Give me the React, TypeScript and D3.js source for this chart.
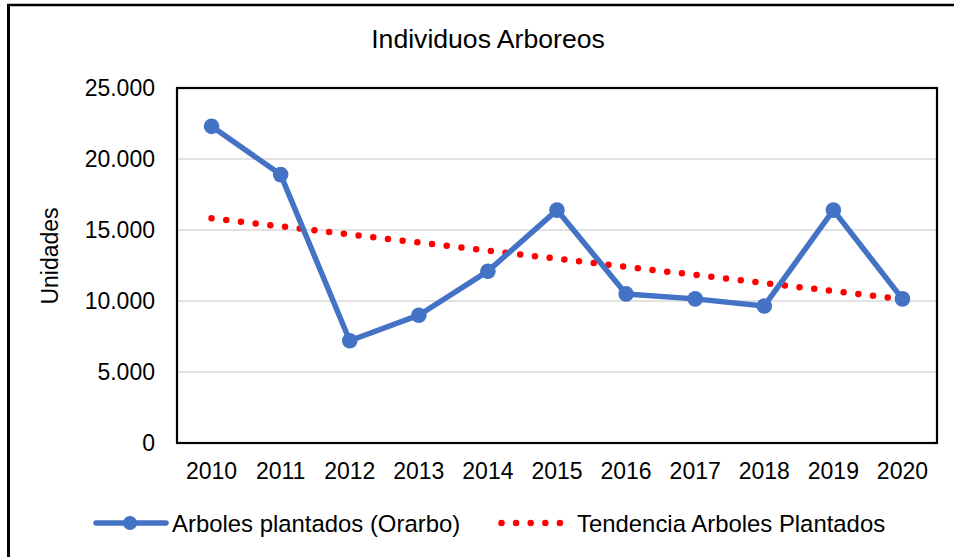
import { useEffect, useRef } from 'react';
import * as d3 from 'd3';

// datos
const years = ['2010', '2011', '2012', '2013', '2014', '2015', '2016', '2017', '2018', '2019', '2020'];
const plantados = [22300, 18900, 7200, 9000, 12100, 16400, 10500, 10150, 9650, 16400, 10150];
const yTicks = [0, 5000, 10000, 15000, 20000, 25000];

const seriesName = 'Arboles plantados (Orarbo)';
const trendName = 'Tendencia Arboles Plantados';
const title = 'Individuos Arboreos';

const BLUE = '#4472C4';
const RED = '#FF0000';

const App = () => {
  const svgRef = useRef<SVGSVGElement>(null);

  useEffect(() => {
    const width = 954;
    const height = 557;
    const m = { left: 177, right: 937, top: 88, bottom: 443 };
    const font = '"Liberation Sans", Arial, sans-serif';

    const svg = d3.select(svgRef.current);
    svg.selectAll('*').remove();
    svg.attr('width', width).attr('height', height);

    svg.append('rect').attr('width', width).attr('height', height).attr('fill', '#fff');

    // marco exterior (recortado: solo arriba e izquierda)
    svg.append('line').attr('x1', 7).attr('x2', width).attr('y1', 5).attr('y2', 5)
      .attr('stroke', '#000').attr('stroke-width', 2.5);
    svg.append('line').attr('x1', 8.5).attr('x2', 8.5).attr('y1', 4).attr('y2', height)
      .attr('stroke', '#000').attr('stroke-width', 3);

    const x = d3.scaleBand<string>().domain(years).range([m.left, m.right]);
    const y = d3.scaleLinear().domain([0, 25000]).range([m.bottom, m.top]);
    const cx = (d: string) => (x(d) ?? 0) + x.bandwidth() / 2;

    const loc = d3.formatLocale({ decimal: ',', thousands: '.', grouping: [3], currency: ['$', ''] });
    const fmt = loc.format(',');

    // lineas de division
    svg.append('g').selectAll('line').data(yTicks).join('line')
      .attr('x1', m.left).attr('x2', m.right)
      .attr('y1', d => y(d)).attr('y2', d => y(d))
      .attr('stroke', '#d9d9d9').attr('stroke-width', 1.5);

    // marco del area de trazado
    svg.append('rect')
      .attr('x', m.left).attr('y', m.top)
      .attr('width', m.right - m.left).attr('height', m.bottom - m.top)
      .attr('fill', 'none').attr('stroke', '#000').attr('stroke-width', 2.2);

    // etiquetas eje Y
    svg.append('g').selectAll('text').data(yTicks).join('text')
      .attr('x', 155).attr('y', d => y(d)).attr('dy', '0.36em')
      .attr('text-anchor', 'end')
      .style('font-family', font).style('font-size', '23px').attr('fill', '#000')
      .text(d => fmt(d));

    // etiquetas eje X
    svg.append('g').selectAll('text').data(years).join('text')
      .attr('x', d => cx(d)).attr('y', 479)
      .attr('text-anchor', 'middle')
      .style('font-family', font).style('font-size', '23px').attr('fill', '#000')
      .text(d => d);

    svg.append('text')
      .attr('transform', 'translate(58,256) rotate(-90)')
      .attr('text-anchor', 'middle')
      .style('font-family', font).style('font-size', '23px').attr('fill', '#000')
      .text('Unidades');

    svg.append('text')
      .attr('x', 488).attr('y', 48)
      .attr('text-anchor', 'middle')
      .style('font-family', font).style('font-size', '26.6px').attr('fill', '#000')
      .text(title);

    // linea de tendencia (regresion lineal)
    const idx = years.map((_, i) => i);
    const mx = d3.mean(idx) ?? 0;
    const my = d3.mean(plantados) ?? 0;
    const slope = d3.sum(idx, i => (i - mx) * (plantados[i] - my)) / d3.sum(idx, i => (i - mx) ** 2);
    const trend = (i: number) => my + slope * (i - mx);

    svg.append('line')
      .attr('x1', cx(years[0])).attr('y1', y(trend(0)))
      .attr('x2', cx(years[years.length - 1])).attr('y2', y(trend(years.length - 1)))
      .attr('stroke', RED).attr('stroke-width', 6.5)
      .attr('stroke-linecap', 'round').attr('stroke-dasharray', '0 14.8');

    // serie
    const line = d3.line<number>().x((_, i) => cx(years[i])).y(d => y(d));
    svg.append('path').datum(plantados)
      .attr('d', line)
      .attr('fill', 'none').attr('stroke', BLUE).attr('stroke-width', 5.5)
      .attr('stroke-linejoin', 'round');

    svg.append('g').selectAll('circle').data(plantados).join('circle')
      .attr('cx', (_, i) => cx(years[i])).attr('cy', d => y(d))
      .attr('r', 7.8).attr('fill', BLUE);

    // leyenda
    const ly = 523;
    svg.append('line').attr('x1', 96).attr('x2', 166).attr('y1', ly).attr('y2', ly)
      .attr('stroke', BLUE).attr('stroke-width', 5.5).attr('stroke-linecap', 'round');
    svg.append('circle').attr('cx', 130).attr('cy', ly).attr('r', 7).attr('fill', BLUE);
    svg.append('text').attr('x', 172).attr('y', 531.5)
      .style('font-family', font).style('font-size', '23.9px').attr('fill', '#000')
      .text(seriesName);

    svg.append('line').attr('x1', 501.5).attr('x2', 561).attr('y1', ly).attr('y2', ly)
      .attr('stroke', RED).attr('stroke-width', 6.5)
      .attr('stroke-linecap', 'round').attr('stroke-dasharray', '0 14.6');
    svg.append('text').attr('x', 577).attr('y', 531.5)
      .style('font-family', font).style('font-size', '23.9px').attr('fill', '#000')
      .text(trendName);
  }, []);

  return <svg ref={svgRef} style={{ position: 'absolute', left: 0, top: 0, display: 'block' }}></svg>;
};

export default App;
